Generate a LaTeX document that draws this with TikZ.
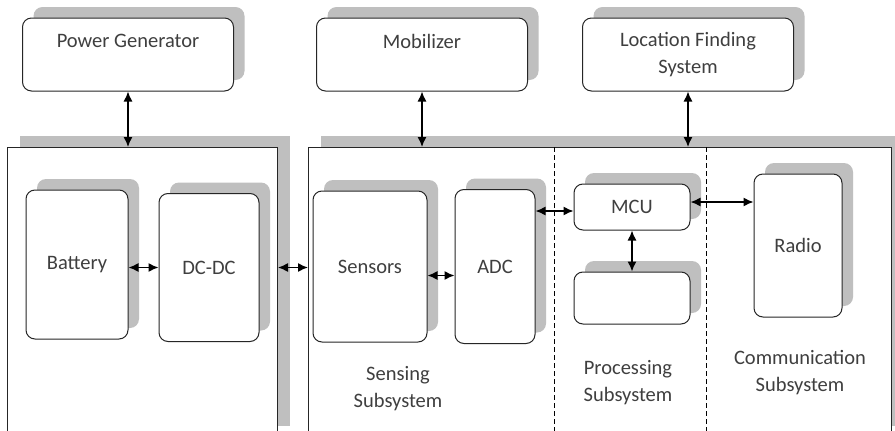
\documentclass[tikz,border=0pt]{standalone}
\usepackage{fontspec}
\setmainfont{Carlito}
\usepackage{tikz}
\usetikzlibrary{arrows.meta, positioning, shadows}

\definecolor{shgray}{HTML}{BFBFBF}
\definecolor{txtgray}{HTML}{3F3F3F}

\begin{document}
\begin{tikzpicture}[
      x=1pt, y=1pt,
      font=\fontsize{20.5}{27}\selectfont,
      blk/.style={rectangle, draw=black!85, line width=1pt, fill=white,
                  rounded corners=9pt, align=center, text=txtgray,
                  drop shadow={shadow xshift=11pt, shadow yshift=11pt,
                               fill=shgray, opacity=1}},
      topblk/.style={blk, minimum width=211pt, minimum height=73pt},
      subsys/.style={rectangle, draw=black!85, line width=1pt, fill=white,
                     drop shadow={shadow xshift=12pt, shadow yshift=12pt,
                                  fill=shgray, opacity=1}},
      lbl/.style={align=center, text=txtgray},
      arr/.style={{Latex[length=10pt,width=9pt]}-{Latex[length=10pt,width=9pt]},
                  line width=1.4pt},
      divider/.style={dash pattern=on 5pt off 3pt, line width=0.8pt},
    ]
    \useasboundingbox (0,0) rectangle (895,-431);

    % subsystem frames
    \node[subsys, minimum width=270pt, minimum height=290pt, anchor=north west] (pwrsub)  at (7,-147) {};
    \node[subsys, minimum width=583pt, minimum height=290pt, anchor=north west] (mainsub) at (308,-147) {};

    % top blocks
    \node[topblk] (pwrgen)  at (128,-54.5)            {Power Generator\\\phantom{S}};
    \node[topblk] (mobil)   [right=82pt of pwrgen]    {Mobilizer\\\phantom{S}};
    \node[topblk] (locfind) [right=54pt of mobil]     {Location Finding\\System};

    % power unit
    \node[blk, minimum width=102pt, minimum height=149pt] (bat) at (77,-264.5) {Battery};
    \node[blk, minimum width=100pt, minimum height=148pt, right=30pt of bat, yshift=-3pt] (dcdc) {DC-DC};

    % sensing / processing / communication
    \node[blk, minimum width=114pt, minimum height=151pt] (sens) at (370,-266.5) {Sensors};
    \node[blk, minimum width=80pt, minimum height=154pt, right=27pt of sens] (adc) {ADC};
    \node[blk, minimum width=116pt, minimum height=46pt] (mcu) at (632,-207) {MCU};
    \node[blk, minimum width=116pt, minimum height=52pt, below=41pt of mcu] (mem) {};
    \node[blk, minimum width=88pt, minimum height=143pt] (radio) at (798,-245.5) {Radio};

    \draw[divider] (554,0 |- mainsub.north) -- (554,-440);
    \draw[divider] (706,0 |- mainsub.north) -- (706,-440);

    \node[lbl] (senslbl) at (398,-389)   {Sensing\\Subsystem};
    \node[lbl] (proclbl) at (628,-382.5) {Processing\\Subsystem};
    \node[lbl] (commlbl) at (800,-372.5) {Communication\\Subsystem};

    % links
    \draw[arr] (pwrgen.south)  -- (pwrgen.south |- pwrsub.north);
    \draw[arr] (mobil.south)   -- (mobil.south |- mainsub.north);
    \draw[arr] (locfind.south) -- (locfind.south |- mainsub.north);
    \draw[arr] (dcdc.west -| bat.east) -- (dcdc.west);
    \draw[arr] (dcdc.east -| pwrsub.east) -- (dcdc.east -| mainsub.west);
    \coordinate (sensadc) at ([yshift=-9pt]sens.east);
    \draw[arr] (sensadc) -- (sensadc -| adc.west);
    \coordinate (adcmcu) at ([yshift=-4pt]mcu.west);
    \draw[arr] (adcmcu -| adc.east) -- (adcmcu);
    \draw[arr] (mcu) -- (mem);
    \coordinate (mcurad) at ([yshift=5pt]mcu.east);
    \draw[arr] (mcurad) -- (mcurad -| radio.west);
  \end{tikzpicture}
\end{document}
